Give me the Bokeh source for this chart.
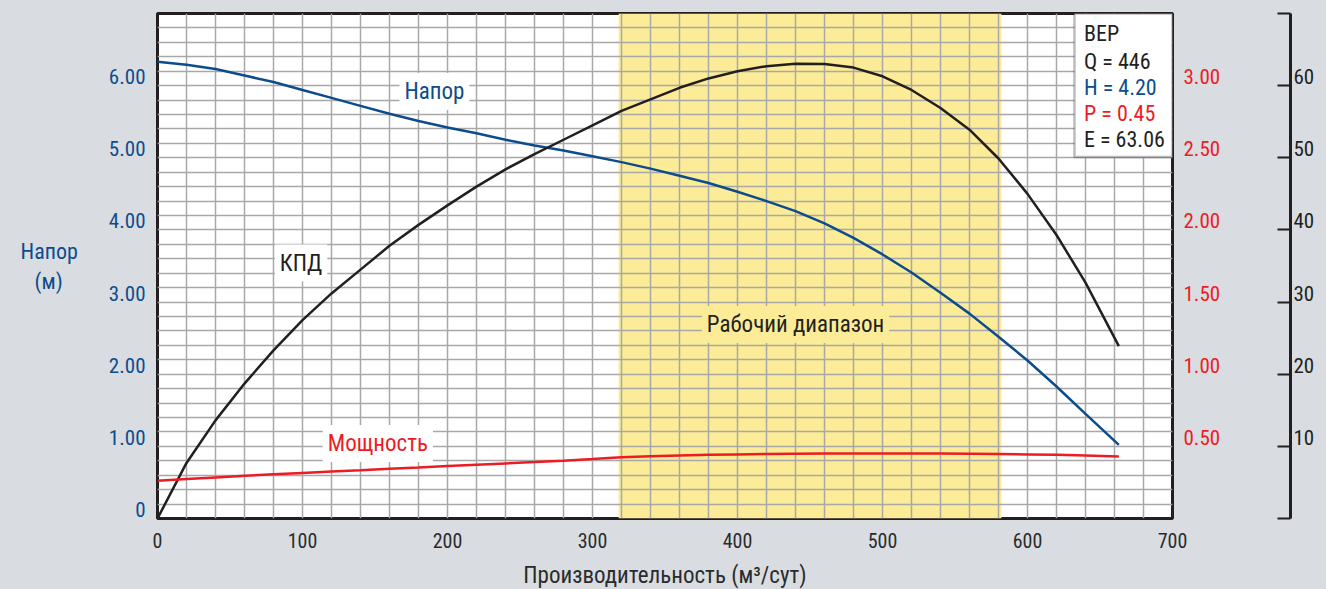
from bokeh.plotting import figure
from bokeh.models import Range1d, LinearAxis, FixedTicker, Label, BoxAnnotation
from bokeh.embed import file_html
from bokeh.resources import INLINE

FONT = "'Roboto Condensed', Roboto"
BLUE = "#0d4c8c"
RED = "#ec1c24"
BLACK = "#231f20"
YELLOW = "#fdec97"
BG = "#d9dde2"
GRID = "#a8a8a8"

# ---- data ----
flow = [0, 20, 40, 60, 80, 100, 120, 140, 160, 180, 200, 220, 240, 260, 280, 300,
        320, 340, 360, 380, 400, 420, 440, 460, 480, 500, 520, 540, 560, 580, 600,
        620, 640, 663]
head = [6.33, 6.29, 6.23, 6.14, 6.05, 5.94, 5.83, 5.72, 5.61, 5.51, 5.42, 5.34, 5.25,
        5.17, 5.10, 5.02, 4.94, 4.85, 4.75, 4.65, 4.53, 4.40, 4.26, 4.09, 3.89, 3.66,
        3.41, 3.13, 2.84, 2.52, 2.19, 1.83, 1.45, 1.02]
efficiency = [0.0, 7.7, 13.6, 18.7, 23.3, 27.5, 31.2, 34.5, 37.8, 40.7, 43.4, 46.0,
              48.4, 50.5, 52.5, 54.5, 56.5, 58.1, 59.7, 61.0, 62.0, 62.7, 63.05, 63.0,
              62.5, 61.3, 59.4, 56.9, 53.9, 49.9, 45.0, 39.3, 32.7, 23.9]
power = [0.262, 0.274, 0.285, 0.296, 0.306, 0.316, 0.326, 0.335, 0.345, 0.354, 0.364,
         0.373, 0.382, 0.391, 0.401, 0.412, 0.424, 0.431, 0.437, 0.441, 0.444, 0.447,
         0.449, 0.450, 0.451, 0.451, 0.451, 0.450, 0.449, 0.447, 0.444, 0.441, 0.437,
         0.430]

work_range = [318, 582]           # Рабочий диапазон (м3/сут)
bep = {"Q": 446, "H": 4.20, "P": 0.45, "E": 63.06}

x_ticks = [0, 100, 200, 300, 400, 500, 600, 700]
head_ticks = [0, 1, 2, 3, 4, 5, 6]
head_labels = ["0", "1.00", "2.00", "3.00", "4.00", "5.00", "6.00"]
power_ticks = [0.5, 1.0, 1.5, 2.0, 2.5, 3.0]
power_labels = ["0.50", "1.00", "1.50", "2.00", "2.50", "3.00"]
eff_ticks = [0, 10, 20, 30, 40, 50, 60, 70]
eff_labels = ["", "10", "20", "30", "40", "50", "60", ""]

x_title = "Производительность (м³/сут)"
y_title = "Напор\n(м)\u00a0\u00a0\u00a0"

HEAD_MAX, POWER_MAX, EFF_MAX = 7.0, 3.5, 70.0
LIFT = 9 / 505  # tick labels sit ~9px above their tick line (fraction of frame height)

# ---- figure ----
p = figure(frame_width=1015, frame_height=505,
           x_range=Range1d(0, 700), y_range=Range1d(0, HEAD_MAX),
           output_backend="svg", toolbar_location=None,
           min_border_left=157, min_border_top=13, min_border_bottom=71,
           min_border_right=154,
           background_fill_color="white", border_fill_color=BG,
           outline_line_color=BLACK, outline_line_width=3)

def lifted(top):
    d = top * LIFT
    return Range1d(-d, top - d)

p.extra_y_ranges = {
    "head_lbl": lifted(HEAD_MAX),
    "power": Range1d(0, POWER_MAX), "power_lbl": lifted(POWER_MAX),
    "eff": Range1d(0, EFF_MAX), "eff_lbl": lifted(EFF_MAX),
}

# working range band
p.add_layout(BoxAnnotation(left=work_range[0], right=work_range[1],
                           fill_color=YELLOW, fill_alpha=1.0, line_alpha=0,
                           level="image"))

# grid
p.xgrid.ticker = FixedTicker(ticks=list(range(0, 701, 20)))
p.ygrid.ticker = FixedTicker(ticks=[round(i * 0.2, 1) for i in range(36)])
for g in (p.xgrid, p.ygrid):
    g.grid_line_color = GRID
    g.grid_line_width = 1.5

def bare(ax):
    ax.axis_line_color = None
    ax.major_tick_line_color = None
    ax.minor_tick_line_color = None
    ax.major_tick_out = 0
    ax.major_tick_in = 0
    ax.minor_tick_out = 0
    ax.minor_tick_in = 0

# x axis
xa = p.xaxis[0]
xa.ticker = FixedTicker(ticks=x_ticks)
bare(xa)
xa.major_label_text_font = FONT
xa.major_label_text_font_size = "20px"
xa.major_label_text_color = "#2b2b2b"
xa.major_label_standoff = 14
xa.axis_label = x_title
xa.axis_label_text_font = FONT
xa.axis_label_text_font_size = "23px"
xa.axis_label_text_font_style = "normal"
xa.axis_label_text_color = "#2b2b2b"
xa.axis_label_standoff = 11

# left (head) axis
ya = p.yaxis[0]
ya.y_range_name = "head_lbl"
ya.ticker = FixedTicker(ticks=head_ticks)
ya.major_label_overrides = {t: s for t, s in zip(head_ticks, head_labels)}
bare(ya)
ya.major_label_text_font = FONT
ya.major_label_text_font_size = "21px"
ya.major_label_text_color = BLUE
ya.major_label_standoff = 12
ya.axis_label = y_title
ya.axis_label_orientation = "horizontal"
ya.axis_label_text_font = FONT
ya.axis_label_text_font_size = "22px"
ya.axis_label_text_font_style = "normal"
ya.axis_label_text_color = BLUE
ya.axis_label_standoff = 28

# right power axis (labels only)
pa = LinearAxis(y_range_name="power_lbl", ticker=FixedTicker(ticks=power_ticks),
                major_label_overrides={t: s for t, s in zip(power_ticks, power_labels)})
bare(pa)
pa.major_label_text_font = FONT
pa.major_label_text_font_size = "21px"
pa.major_label_text_color = RED
pa.major_label_standoff = 11
pa.axis_label = "\u00a0"
pa.axis_label_text_font_size = "10px"
pa.axis_label_standoff = 53
p.add_layout(pa, "right")

# right efficiency axis: bracket with inward ticks
ea = LinearAxis(y_range_name="eff", ticker=FixedTicker(ticks=eff_ticks),
                major_label_overrides={t: "" for t in eff_ticks})
ea.axis_line_color = BLACK
ea.axis_line_width = 3
ea.major_tick_line_color = BLACK
ea.major_tick_line_width = 2
ea.major_tick_in = 13
ea.major_tick_out = 0
ea.minor_tick_line_color = None
ea.minor_tick_out = 0
ea.major_label_standoff = 0
ea.major_label_text_font_size = "0px"
p.add_layout(ea, "right")

# efficiency labels, just above the ticks
el = LinearAxis(y_range_name="eff_lbl", ticker=FixedTicker(ticks=eff_ticks),
                major_label_overrides={t: s for t, s in zip(eff_ticks, eff_labels)})
bare(el)
el.major_label_text_font = FONT
el.major_label_text_font_size = "21px"
el.major_label_text_color = BLACK
el.major_label_standoff = 3
p.add_layout(el, "right")

# curves
p.line(flow, head, line_color=BLUE, line_width=2.5)
p.line(flow, efficiency, y_range_name="eff", line_color=BLACK, line_width=2.5)
p.line(flow, power, y_range_name="power", line_color=RED, line_width=2.5)

# curve labels
def tag(x, y, text, color, bg):
    p.add_layout(Label(x=x, y=y, text=text, text_align="center", text_baseline="middle",
                       text_color=color, text_font=FONT, text_font_size="23px",
                       background_fill_color=bg, background_fill_alpha=1.0,
                       padding=5))

tag(191, 5.92, "Напор", BLUE, "white")
tag(99, 3.54, "КПД", BLACK, "white")
tag(152, 1.04, "Мощность", RED, "white")
tag(440, 2.69, "Рабочий диапазон", BLACK, YELLOW)

# BEP box
p.add_layout(BoxAnnotation(left=632.4, right=700, bottom=5.01, top=7,
                           fill_color="white", fill_alpha=1.0,
                           line_color=BLACK, line_width=2.5, level="annotation"))
bep_lines = [("BEP", BLACK),
             ("Q = %d" % bep["Q"], BLACK),
             ("H = %.2f" % bep["H"], BLUE),
             ("P = %.2f" % bep["P"], RED),
             ("E = %.2f" % bep["E"], BLACK)]
bep_y = [6.72, 6.33, 5.97, 5.61, 5.25]
for (txt, col), yy in zip(bep_lines, bep_y):
    p.add_layout(Label(x=639, y=yy, text=txt, text_align="left", text_baseline="middle",
                       text_color=col, text_font=FONT, text_font_size="22px"))

html = file_html(p, INLINE)
html = html.replace("<head>", "<head><style>body{background:%s;}</style>" % BG, 1)
open("out.html", "w").write(html)
